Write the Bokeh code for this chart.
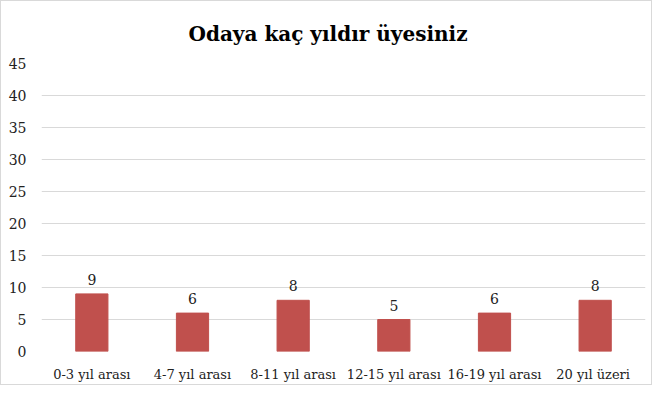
from bokeh.plotting import figure
from bokeh.models import ColumnDataSource, LabelSet, Title, FactorRange
from bokeh.core.properties import value
from bokeh.embed import file_html
from bokeh.resources import INLINE

categories = ["0-3 yıl arası", "4-7 yıl arası", "8-11 yıl arası", "12-15 yıl arası", "16-19 yıl arası", "20  yıl üzeri"]
counts = [9, 6, 8, 5, 6, 8]
y_ticks = [0, 5, 10, 15, 20, 25, 30, 35, 40, 45]

FONT = "DejaVu Serif"

src = ColumnDataSource(dict(cat=categories, val=counts, lbl=[str(v) for v in counts]))

p = figure(width=652, height=385, x_range=FactorRange(*categories, range_padding=0),
           y_range=(0, 45), output_backend="svg", toolbar_location=None,
           min_border_left=40, min_border_right=8, min_border_top=61, min_border_bottom=35)
p.styles = {"border": "1px solid #d9d9d9"}

p.vbar(x="cat", top="val", width=0.32, source=src, color="#C0504D")

labels = LabelSet(x="cat", y="val", text="lbl", source=src, y_offset=9,
                  text_align="center", text_baseline="bottom",
                  text_font=value(FONT), text_font_size="14px", text_color="#222222")
p.add_layout(labels)

t = Title(text="Odaya kaç yıldır üyesiniz", align="left", text_font=FONT,
          text_font_size="20px", text_font_style="bold", text_color="#000000",
          offset=147, standoff=36)
p.add_layout(t, "above")

p.outline_line_color = None
p.xgrid.grid_line_color = None
p.ygrid.grid_line_color = "#d9d9d9"
p.ygrid.grid_line_width = 1
p.yaxis.ticker = y_ticks

for ax in (p.xaxis, p.yaxis):
    ax.axis_line_color = None
    ax.major_tick_line_color = None
    ax.minor_tick_line_color = None
    ax.major_label_text_font = FONT
    ax.major_label_text_color = "#222222"
p.yaxis.major_label_text_font_size = "14px"
p.xaxis.major_label_text_font_size = "13px"
p.yaxis.major_label_standoff = 9
p.xaxis.major_label_standoff = 9

open("out.html", "w").write(file_html(p, INLINE))
